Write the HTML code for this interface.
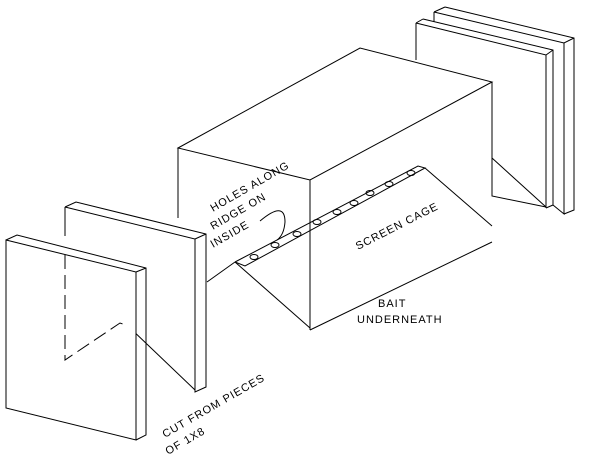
<!DOCTYPE html>
<html><head><style>body{margin:0;background:#fff}svg{display:block}text{font-family:"Liberation Sans",sans-serif;font-size:11px;fill:#000;stroke:none;letter-spacing:1px}</style></head><body>
<svg width="600" height="470" viewBox="0 0 600 470">
<g fill="none" stroke="#000" stroke-width="1">
<!-- back panels -->
<path d="M445,7 L574,38 L574,210 L564,214 M434,12 L445,7 M434,12 L564,43 L574,38 M564,43 L564,214 L553,205 M434,12 L434,22"/>
<path d="M423,19 L553,50 L553,205 L546,208 M416,23 L423,19 M416,23 L546,55 L553,50 M546,55 L546,208 M416,23 L416,60"/>
<!-- box -->
<path d="M178,148 L360,48 L492,82 L310,180 Z M310,180 L310,330 M492,82 L492,196 L546,207 M178,148 L178,218"/>
<!-- cage -->
<path d="M310,330 L492,242 M425,168 L492,226 M492,158 L546,207 M235,262 L310,328 M207,282 L235,262"/>
<path d="M235,262 L418,166 L425,168 L245,266 L235,262"/>
<ellipse cx="254" cy="257" rx="4" ry="2.5"/><ellipse cx="275" cy="245" rx="4" ry="2.5"/><ellipse cx="297" cy="234" rx="4" ry="2.5"/><ellipse cx="317" cy="222" rx="4" ry="2.5"/><ellipse cx="337" cy="212" rx="4" ry="2.5"/><ellipse cx="354" cy="203" rx="4" ry="2.5"/><ellipse cx="370" cy="193" rx="4" ry="2.5"/><ellipse cx="389" cy="184" rx="4" ry="2.5"/><ellipse cx="411" cy="173" rx="4" ry="2.5"/>
<path d="M260,221 Q285,200 285,222 Q284,235 277,240"/>
<!-- panel 2 -->
<path d="M65,207 L195,239 L195,392 L206,387 L206,234 L76,202 L65,207 M195,239 L206,234 M65,207 L65,236"/>
<path d="M128,326 L195,390"/>
<!-- panel 1 -->
<path d="M6,240 L136,272 L136,440 L6,408 Z" fill="#fff"/>
<path d="M6,240 L17,235 L146,268 L146,435 L136,440 M136,272 L146,268"/>
<path d="M65,255 L65,360 L120,323 L128,326" stroke-dasharray="14,6"/>
</g>
<text transform="translate(213,212) rotate(-30)">HOLES ALONG</text>
<text transform="translate(213,230) rotate(-30)">RIDGE ON</text>
<text transform="translate(213,248) rotate(-30)">INSIDE</text>
<text transform="translate(358,250) rotate(-27)">SCREEN  CAGE</text>
<text x="378" y="307">BAIT</text>
<text x="357" y="323">UNDERNEATH</text>
<text transform="translate(165,438) rotate(-30)">CUT FROM PIECES</text>
<text transform="translate(168,455) rotate(-30)">OF 1X8</text>
</svg>
</body></html>
